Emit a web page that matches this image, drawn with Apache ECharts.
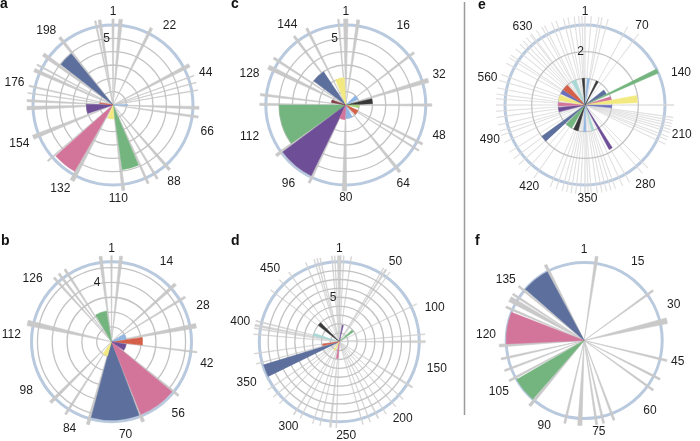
<!DOCTYPE html>
<html><head><meta charset="utf-8">
<script src="https://cdn.jsdelivr.net/npm/echarts/dist/echarts.min.js"></script>
<style>html,body{margin:0;padding:0;background:#fff}#c{width:700px;height:441px}</style>
</head><body><div id="c"></div>
<script>
// ---------- DATA (angle positions in axis units, radial values) ----------
// Panel a
const aN = 224;
const aTicks = [1,22,44,66,88,110,132,154,176,198];
const aRadLabel = 5;
const aSpokes = [[216.6,0.6],[218.4,1.2],[0,0.9],[3.2,1.5],[16.5,1.2],[38.9,1.5],[43.6,0.3],[46.6,0.3],[49.8,0.3],[57.2,1.2],[61,0.9],[86.4,1.2],[92.7,0.9],[97,0.9],[107.7,1.2],[129.7,1.8],[142.7,0.6],[154.3,1.8],[166.7,1.5],[169.8,0.9],[173,0.3],[176,0.6],[182.9,1.5],[185.4,0.6],[190.4,1.5],[200.2,1.2]];
const aBars = [[191.6,199.6,4.95,'navy'],[130.7,142.1,5.75,'pink'],[97.7,106.9,4.9,'green'],[156.6,169,2.0,'purple'],[109.6,125.9,1.05,'yellow'],[54.8,57.2,1.1,'lightblue'],[172.1,174.1,1.0,'red']];
// Panel b
const bN = 147;
const bTicks = [1,14,28,42,56,70,84,98,112,126];
const bRadLabel = 4;
const bSpokes = [[144,0.85],[0,0.4],[2.6,0.85],[129.9,0.6],[131.6,0.6],[133.6,0.6],[19.6,0.85],[24,0.6],[32.4,1.25],[39.6,0.4],[52.6,0.6],[64.7,0.85],[80,0.85],[86.7,0.6],[91.9,0.85],[115.4,1.5]];
const bBars = [[65.1,79.6,5.3,'navy'],[52.9,64.5,5.3,'pink'],[134.4,143.2,2.1,'green'],[33.5,39.3,2.1,'red'],[24.2,32.6,1.0,'lightblue'],[40.8,51,1.0,'purple'],[80,87.8,1.0,'yellow']];
// Panel c
const cN = 160;
const cTicks = [1,16,32,48,64,80,96,112,128,144];
const cRadLabel = 5;
const cSpokes = [[157.8,0.45],[0,1.3],[3.7,0.9],[23.3,0.7],[32.6,1.3],[40,0.7],[52,0.7],[54.2,0.45],[62.7,0.9],[80.4,1.3],[91.2,0.7],[104,0.9],[120.2,0.7],[123.1,0.7],[131.6,1.3],[134.7,0.7],[143.6,0.7],[148,0.7]];
const cBars = [[104.4,120,5.0,'green'],[91.6,103.7,5.9,'purple'],[136.3,145,3.0,'navy'],[150.2,158.7,2.05,'yellow'],[124.4,128.9,1.1,'darkred'],[33.9,38.7,2.0,'black'],[20,29,1.0,'lightblue'],[40,45.3,1.0,'lightgreen'],[51,60,1.0,'red'],[67.5,80,1.0,'lightblue'],[81.3,91.1,1.1,'pink']];
// Panel d
const dN = 512;
const dTicks = [1,50,100,150,200,250,300,350,400,450];
const dRadLabel = 5;
const dSpokes = [[0,3.6],[4.3,0.7],[11.4,0.7],[487.8,0.7],[490.7,0.8],[493.6,0.7],[504.9,0.7],[507.7,0.7],[44.1,0.7],[46.9,1.7],[51.2,0.7],[91,0.7],[120.9,0.7],[128,2.1],[173.5,1.7],[187.7,0.7],[197.7,0.7],[209.1,0.7],[217.6,1.1],[226.1,0.7],[233.3,0.7],[258.9,0.8],[264.5,1.7],[274.5,0.7],[281.6,0.7],[294.4,0.7],[301.5,1.1],[318.6,0.7],[327.1,0.7],[335.7,0.7],[362.7,0.7],[372.6,0.7],[391.1,0.7],[396.8,1.1],[399.7,2.1],[403.9,1.1],[436.6,0.7],[449.4,0.7],[460.8,0.7],[479.3,0.7]];
const dBars = [[347,359.8,8.9,'navy'],[438.3,448.5,3.0,'black'],[402.4,410.6,3.0,'cyan'],[66.9,78.2,1.95,'green'],[14.3,19.9,1.9,'purple'],[364.1,372.6,1.9,'red'],[261.7,270.2,1.9,'pink'],[292.9,305.2,1.1,'yellow']];
// Panel e
const eN = 706;
const eTicks = [1,70,140,210,280,350,420,490,560,630];
const eRadLabel = 2;
const eSpokes = [[584.4,0.7],[592.2,0.7],[596.2,0.7],[605.9,0.7],[613.8,0.7],[619.7,0.7],[625.6,0.7],[631.5,0.7],[633.5,0.7],[641.2,0.7],[649.1,0.7],[653,0.7],[662.8,0.7],[668.8,0.7],[678.6,0.7],[684.4,0.7],[692.3,0.7],[698.1,0.7],[702.1,0.7],[0,1.2],[7.9,0.7],[17.6,0.7],[21.6,0.7],[29.5,0.7],[55.9,0.7],[72.5,0.7],[176.5,1.0],[192.2,0.7],[196.1,0.7],[200,0.7],[203.9,0.7],[207.9,0.7],[211.8,0.7],[217.6,0.7],[221.6,0.7],[227.5,0.7],[264.8,0.7],[274.5,0.7],[294.2,0.7],[304,0.7],[313.8,0.7],[319.6,0.7],[325.6,0.7],[331.4,0.7],[337.3,0.7],[345.1,0.7],[349.1,0.7],[353,1.0],[358.8,0.7],[364.8,0.7],[370.6,0.7],[376.5,0.7],[382.4,0.7],[390.2,0.7],[398.1,0.7],[421.7,0.7],[435.4,0.7],[447.1,0.7],[457,0.7],[466.8,0.7],[480.5,0.7],[490.3,0.7],[496.1,0.7],[504,0.7],[513.8,0.7],[521.6,0.7],[529.5,0.7],[537.4,0.7],[543.2,0.7],[551.1,0.7],[560.9,0.7],[568.7,0.7]];
const eBars = [[100.9,123,0.9,'navy'],[124.1,130.4,3.0,'green'],[141.2,155.3,1.0,'pink'],[155.9,171.5,1.97,'yellow'],[177.5,188.6,1.0,'bluepurple'],[289.1,297.2,1.9,'purple'],[313.7,323.8,1.0,'cyan'],[349,359,1.0,'lightblue'],[382.2,402.4,1.0,'black'],[411.5,440.7,1.0,'green'],[445.8,458.9,2.0,'navy'],[500.3,519.4,1.0,'purple'],[525.5,539.6,1.0,'pink'],[548.7,572.9,1.0,'yellow'],[578.9,597.1,1.0,'bluepurple'],[598.1,625.3,1.0,'red'],[647.5,666.7,1.0,'cyan'],[693.9,704,1.0,'black'],[10.1,19.2,1.0,'lightblue'],[49.4,58.5,1.0,'black']];
// Panel f
const fN = 158;
const fTicks = [1,15,30,45,60,75,90,105,120,135];
const fSpokes = [[3.7,0.85],[23.7,0.6],[33.6,1.7],[45.5,0.6],[51.4,0.6],[55.2,0.6],[70,0.6],[73.2,0.6],[75.3,0.6],[80.3,1.25],[84.8,0.6],[96.5,0.85],[106.1,0.6],[109.4,0.6],[113,0.6],[117,0.85],[128.7,0.6],[131.3,1.6],[133,0.6],[135.9,0.6],[146.1,0.85]];
const fBars = [[136.5,145.6,1.0,'navy'],[117.4,127.8,1.0,'pink'],[97.1,105.3,1.0,'green']];

// ---------- STYLE / LAYOUT ----------
const PAL = {navy:'#5d6f9c', pink:'#d3759a', green:'#74b47f', purple:'#6e4f97', yellow:'#f2ea80', lightblue:'#90b6e3', red:'#d5604a', black:'#383838', darkred:'#7f3b43', lightgreen:'#a8d07a', cyan:'#a9d8d5', bluepurple:'#6b6fbb'};
const FONT = 'Liberation Sans, Arial, sans-serif';
const RING = '#c3c3c3';
const panels = [
  {letter:'a', lx:0, ly:11, N:aN, ticks:aTicks, rmax:6, rlab:aRadLabel, spokes:aSpokes, bars:aBars, center:[113,105], R:80, sc:'#c9c9c9', slw:0.6, ext:6, lm:3, rings:true},
  {letter:'b', lx:1, ly:248, N:bN, ticks:bTicks, rmax:5.4, rlab:bRadLabel, spokes:bSpokes, bars:bBars, center:[111.5,341.7], R:80, sc:'#c9c9c9', slw:0.6, ext:6, lm:11, rings:true},
  {letter:'c', lx:231, ly:11.5, N:cN, ticks:cTicks, rmax:6, rlab:cRadLabel, spokes:cSpokes, bars:cBars, center:[345.8,105], R:80, sc:'#c9c9c9', slw:0.6, ext:6, lm:8, rings:true},
  {letter:'d', lx:231, ly:248, N:dN, ticks:dTicks, rmax:9, rlab:dRadLabel, spokes:dSpokes, bars:dBars, center:[339.3,341.7], R:80, sc:'#d0d0d0', slw:0.5, ext:6, lm:3, rings:true},
  {letter:'e', lx:478, ly:12, N:eN, ticks:eTicks, rmax:3, rlab:eRadLabel, spokes:eSpokes, bars:eBars, center:[585,105], R:80, sc:'#d9d9d9', slw:0.4, ext:9, lm:1, rings:true},
  {letter:'f', lx:475, ly:248, N:fN, ticks:fTicks, rmax:1, rlab:null, spokes:fSpokes, bars:fBars, center:[584.2,340.5], R:78, sc:'#c9c9c9', slw:0.6, ext:7, lm:3, rings:false}
];

function angOf(api, cs, a){ const p = api.coord([1, a]); return Math.atan2(p[1]-cs.cy, p[0]-cs.cx); }
function sector(cs, r, a0, a1, fill, lw){
  while (a1 < a0) a1 += Math.PI*2;
  return {type:'sector', shape:{cx:cs.cx, cy:cs.cy, r0:0, r:r, startAngle:a0, endAngle:a1, clockwise:true},
          style:{fill:fill, stroke:fill, lineWidth:lw}};
}

const polar = [], angleAxis = [], radiusAxis = [], series = [], graphic = [];
panels.forEach((p, i) => {
  polar.push({center:p.center, radius:[0, p.R]});
  const step = p.ticks[1];
  const nTicks = Math.floor(p.rmax) + 1 + (p.rmax % 1 ? 1 : 0);
  const ringColors = Array(nTicks - 1).fill(RING).concat(['rgba(0,0,0,0)']);
  angleAxis.push({polarIndex:i, type:'value', min:0, max:p.N, interval:step, startAngle:90, clockwise:true, z:1,
    axisLine:{lineStyle:{color:'#b9c9de', width:3}}, axisTick:{show:false}, splitLine:{show:false},
    axisLabel:{show:false}});
  radiusAxis.push({polarIndex:i, type:'value', min:0, max:p.rmax, interval:1, z:2.5,
    axisLine:{show:false}, axisTick:{show:false},
    splitLine:{show:p.rings, lineStyle:{color:ringColors, width:1.3}},
    axisLabel:{show:p.rlab !== null, margin:p.lm, fontSize:12, color:'#1e1e1e', fontFamily:FONT,
      formatter:v => v === p.rlab ? String(v) : ''}});
  // spokes
  series.push({type:'custom', coordinateSystem:'polar', polarIndex:i, silent:true, z:2, data:p.spokes,
    renderItem:(params, api) => {
      const cs = params.coordSys; const pos = api.value(0), w = api.value(1);
      return sector(cs, cs.r + p.ext, angOf(api, cs, pos - w/2), angOf(api, cs, pos + w/2), p.sc, p.slw);
    }});
  // coloured wedges
  series.push({type:'custom', coordinateSystem:'polar', polarIndex:i, silent:true, z:3,
    data:p.bars.map(b => [b[0], b[1], b[2]]),
    renderItem:(params, api) => {
      const cs = params.coordSys; const s = api.value(0), e = api.value(1), v = api.value(2);
      const q = api.coord([v, (s+e)/2]); const r = Math.hypot(q[0]-cs.cx, q[1]-cs.cy);
      return sector(cs, r, angOf(api, cs, s), angOf(api, cs, e), PAL[p.bars[params.dataIndex][3]], 0.5);
    }});
  // angular tick labels, centred around the rim (position from the angle axis scale)
  series.push({type:'custom', coordinateSystem:'polar', polarIndex:i, silent:true, z:4,
    data:p.ticks.map((t, k) => [k === 0 ? 0 : t, k]),
    renderItem:(params, api) => {
      const cs = params.coordSys; const pos = api.value(0);
      const txt = String(p.ticks[api.value(1)]);
      const q = api.coord([p.rmax, pos]);
      const dx = q[0]-cs.cx, dy = q[1]-cs.cy, L = Math.hypot(dx, dy);
      const ux = dx/L, uy = dy/L;
      const w = txt.length * 6.7, h = 12;
      const d = cs.r + 7 + 3*Math.abs(ux) + Math.abs(ux)*w/2 + Math.abs(uy)*h/2;
      return {type:'text', x:cs.cx + ux*d, y:cs.cy + uy*d,
        style:{text:txt, fill:'#1e1e1e', font:'12px ' + FONT, align:'center', verticalAlign:'middle'}};
    }});
  graphic.push({type:'text', x:p.lx, y:p.ly, style:{text:p.letter, font:'bold 14px ' + FONT, fill:'#111', verticalAlign:'bottom'}});
});
graphic.push({type:'line', shape:{x1:464.5, y1:2, x2:464.5, y2:415}, style:{stroke:'#9a9a9a', lineWidth:1.5}});

const chart = echarts.init(document.getElementById('c'), null, {renderer:'canvas'});
chart.setOption({animation:false, backgroundColor:'#fff', polar, angleAxis, radiusAxis, series, graphic});
</script></body></html>
